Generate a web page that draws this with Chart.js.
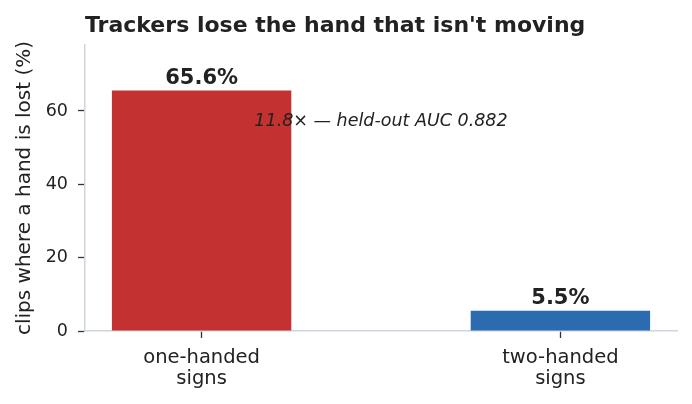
<!DOCTYPE html>
<html>
<head>
<meta charset="utf-8">
<script src="https://cdn.jsdelivr.net/npm/chart.js@4.4.1/dist/chart.umd.min.js"></script>
<style>
  html, body { margin: 0; padding: 0; background: #fff; }
  #wrap { width: 692px; height: 404px; }
</style>
</head>
<body>
<div id="wrap"><canvas id="chart-hand-lost"></canvas></div>
<script>
// data
const categories = [['one-handed', 'signs'], ['two-handed', 'signs']];
const lostPct = [65.6, 5.5];
const barColors = ['#c43131', '#2b6cb0'];
const yTicks = [0, 20, 40, 60];
const titleText = "Trackers lose the hand that isn't moving";
const noteText = '11.8\u00d7 \u2014 held-out AUC 0.882';
const notePos = { x: 0.5, y: 57.5 };

const FONT = "'DejaVu Sans', sans-serif";
const INK = '#222222';
const AXIS = '#cdd5e0';

// title, value labels above the bars, and the annotation
const extrasPlugin = {
  id: 'extras',
  afterDatasetsDraw(chart) {
    const { ctx, scales } = chart;
    const meta = chart.getDatasetMeta(0);
    ctx.save();
    ctx.fillStyle = INK;
    ctx.textAlign = 'center';
    ctx.textBaseline = 'alphabetic';
    ctx.font = 'bold 21px ' + FONT;
    meta.data.forEach((bar, i) => {
      ctx.fillText(lostPct[i].toFixed(1) + '%', bar.x, bar.y - 6.5);
    });

    ctx.font = 'italic 17.5px ' + FONT;
    ctx.fillText(noteText, scales.x.getPixelForValue(notePos.x), scales.y.getPixelForValue(notePos.y) + 6);

    ctx.textAlign = 'left';
    ctx.font = 'bold 22px ' + FONT;
    ctx.fillText(titleText, chart.chartArea.left, 32);
    ctx.restore();
  }
};

const ctx = document.getElementById('chart-hand-lost').getContext('2d');
new Chart(ctx, {
  type: 'bar',
  data: {
    datasets: [{
      data: lostPct.map((v, i) => ({ x: i, y: v })),
      backgroundColor: barColors,
      borderWidth: 0,
      categoryPercentage: 1,
      barPercentage: 0.5
    }]
  },
  options: {
    responsive: true,
    maintainAspectRatio: false,
    animation: false,
    layout: { padding: { top: 45, right: 15, left: 0, bottom: 0 } },
    plugins: {
      legend: { display: false },
      tooltip: { enabled: false },
      title: { display: false }
    },
    scales: {
      x: {
        type: 'linear',
        min: -0.325,
        max: 1.325,
        offset: false,
        afterBuildTicks: axis => { axis.ticks = categories.map((_, i) => ({ value: i })); },
        afterFit: axis => { axis.height = 73; },
        ticks: {
          callback: value => categories[value] || '',
          color: INK,
          font: { family: FONT, size: 19.5, lineHeight: 1.1 },
          padding: 9,
          maxRotation: 0,
          autoSkip: false
        },
        grid: { offset: false, drawOnChartArea: false, drawTicks: true, tickLength: 7, tickColor: '#333', tickWidth: 1.3 },
        border: { color: AXIS, width: 1.5 }
      },
      y: {
        min: 0,
        max: 78,
        afterBuildTicks: axis => { axis.ticks = yTicks.map(v => ({ value: v })); },
        afterFit: axis => { axis.width = 85; },
        ticks: {
          color: INK,
          font: { family: FONT, size: 17.5 },
          padding: 10
        },
        title: {
          display: true,
          text: 'clips where a hand is lost (%)',
          color: INK,
          font: { family: FONT, size: 20 },
          padding: { top: 13, bottom: 0 }
        },
        grid: { drawOnChartArea: false, drawTicks: true, tickLength: 7, tickColor: '#333', tickWidth: 1.3 },
        border: { color: AXIS, width: 1.5 }
      }
    }
  },
  plugins: [extrasPlugin]
});
</script>
</body>
</html>
